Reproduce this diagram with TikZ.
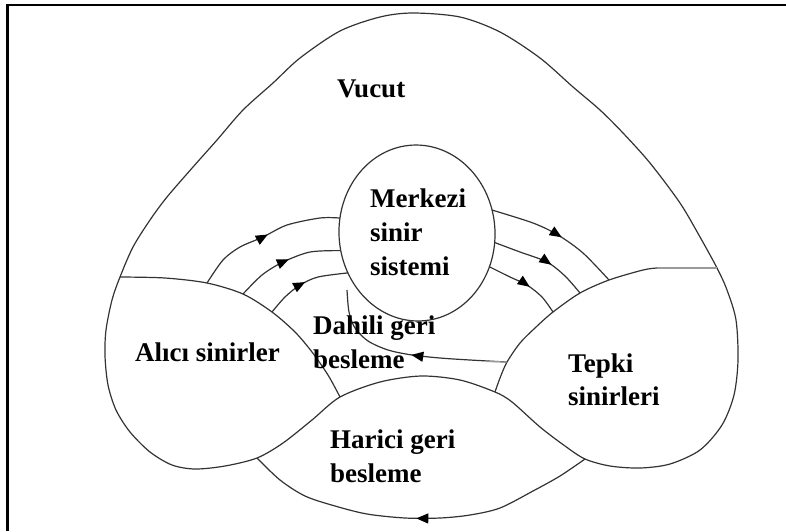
\documentclass[tikz,border=0pt]{standalone}
\usepackage{fontspec}
\setmainfont{Liberation Serif}
\usetikzlibrary{arrows.meta,decorations.markings,shapes.geometric}
\begin{document}
\begin{tikzpicture}[x=1pt,y=-1pt,
  ln/.style={line width=1.2pt, draw=black!80, line join=round},
  grayln/.style={line width=1.2pt, draw=black!40},
  lbl/.style={font=\bfseries\fontsize{27}{32}\selectfont, inner sep=0pt, anchor=base west},
  arrat/.style={postaction={decorate}, decoration={markings,
      mark=at position #1 with {\arrow{Triangle[length=12pt,width=10pt,black]}}}},
]
\useasboundingbox (0,0) rectangle (786,531);
% frame
\draw[line width=2.5pt] (7.5,531) -- (7.5,5) -- (786,5);

% junction coordinates
\coordinate (A0) at (120,277);
\coordinate (a1) at (207,283);
\coordinate (a2) at (243,294);
\coordinate (a3) at (272,312);
\coordinate (H0) at (340,397);
\coordinate (HL) at (257,458);
\coordinate (HR) at (585,459);
\coordinate (T0) at (495,392);
\coordinate (t1) at (609,280);
\coordinate (t2) at (580,293);
\coordinate (t3) at (553,312);
\coordinate (tD) at (507,362);
\coordinate (TT) at (657,268);
\coordinate (TR) at (717,268);
\coordinate (dE) at (347,290);

% outer body outline with lobes
\draw[ln] plot[smooth cycle] coordinates {
  (A0) (112,300) (106,330) (105,356) (108,385) (116,410) (130,432) (150,452)
  (172,465) (195,469) (225,466) (HL) (283,443) (312,420) (H0) (380,382)
  (421,376) (460,380) (T0) (512,402) (540,427) (565,446) (HR) (610,466)
  (640,468) (670,464) (700,450) (722,425) (734,395) (738,360) (736,320)
  (727,290) (TR) (700,237) (680,203) (650,163) (623,133) (600,110) (573,87)
  (540,58) (500,32) (460,17) (413,13) (380,17) (340,31) (300,58) (273,83)
  (243,110) (217,140) (193,167) (167,197) (150,220) (133,247)};

% Alici lobe divider
\draw[ln] plot[smooth] coordinates {(A0) (165,278) (a1) (a2) (a3) (295,332) (312,352) (328,375) (H0)};
% Tepki lobe divider
\draw[ln] plot[smooth] coordinates {(TT) (643,270) (t1) (t2) (t3) (535,328) (520,343) (tD) (500,378) (T0)};
\draw[grayln] (TT) -- (TR);

% central nervous system
\node[ln, draw, ellipse, rotate=3, minimum width=156pt, minimum height=176pt,
      inner sep=0pt, outer sep=0pt] (cns) at (417,233) {};

% afferent arcs (left)
\draw[ln, arrat=80pt] plot[smooth] coordinates {(a1) (223,260) (240,247) (263,237) (287,225) (320,218) (cns.166)};
\draw[ln, arrat=58pt] plot[smooth] coordinates {(a2) (262,275) (283,262) (310,252) (cns.190)};
\draw[ln, arrat=45pt] plot[smooth] coordinates {(a3) (285,297) (300,285) (318,277) (cns.207)};

% efferent arcs (right)
\draw[ln, arrat=75pt] plot[smooth] coordinates {(cns.14) (533,223) (558,235) (583,253) (t1)};
\draw[ln, arrat=61pt] plot[smooth] coordinates {(cns.350) (520,252) (547,262) (565,276) (t2)};
\draw[ln, arrat=45pt] plot[smooth] coordinates {(cns.332) (510,277) (527,285) (542,297) (t3)};

% internal feedback
\draw[ln, arrat=96pt] plot[smooth] coordinates {(tD) (470,360) (440,358) (412,355) (388,350) (368,341) (355,328) (349,312) (dE)};
\draw[grayln] (tD) -- (486,361.5);

% external feedback
\draw[ln, arrat=183pt] plot[smooth] coordinates {(HR) (560,476) (533,491) (500,508) (470,515) (440,518) (405,518) (367,514) (335,506) (305,496) (280,480) (HL)};

% labels
\node[lbl] (vucut) at (337,97) {Vucut};
\node[lbl] (m1) at (370,207) {Merkezi};
\node[lbl] (m2) at (370,241) {sinir};
\node[lbl] (m3) at (370,275) {sistemi};
\node[lbl] (alici) at (135,361) {Alıcı sinirler};
\node[lbl] (d1) at (313,334) {Dahili geri};
\node[lbl] (d2) at (313,368) {besleme};
\node[lbl] (t1l) at (568,372) {Tepki};
\node[lbl] (t2l) at (568,405) {sinirleri};
\node[lbl] (h1) at (330,448) {Harici geri};
\node[lbl] (h2) at (330,482) {besleme};
\end{tikzpicture}
\end{document}
